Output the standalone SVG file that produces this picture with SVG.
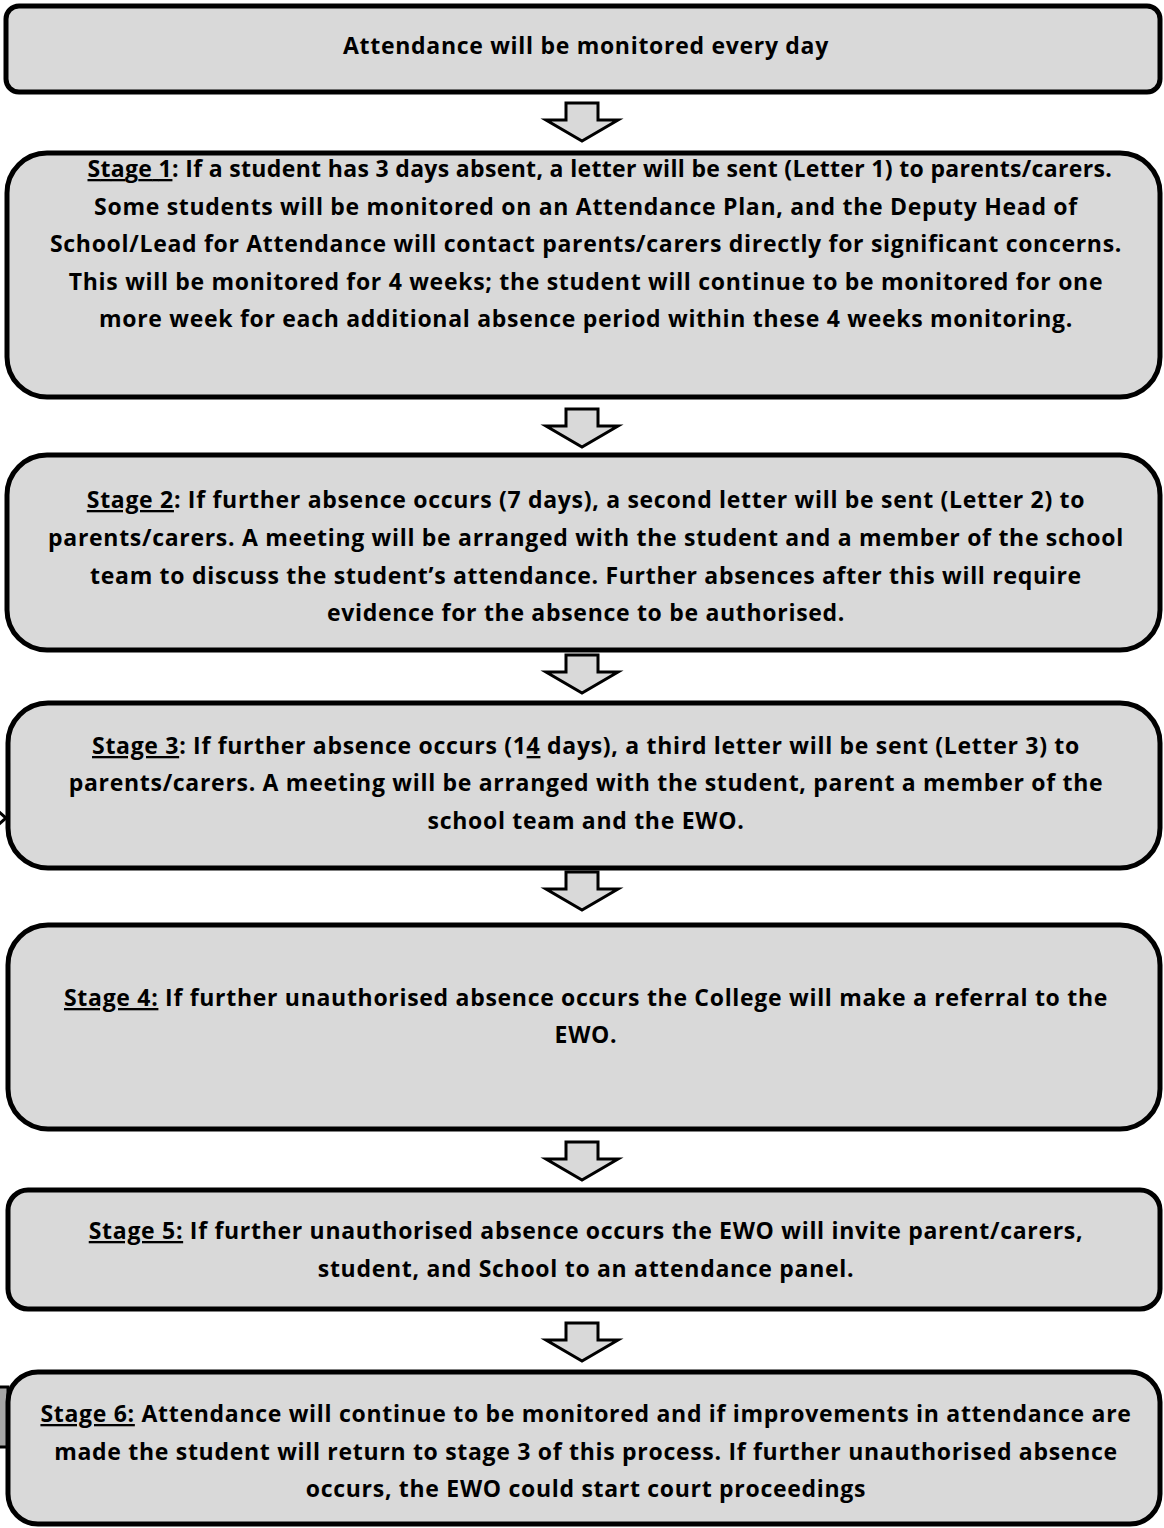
<svg xmlns="http://www.w3.org/2000/svg" width="1164" height="1528" viewBox="0 0 1164 1528">
<defs>
<style>
.box{fill:#d9d9d9;stroke:#000;stroke-width:5}
.arr{fill:#d9d9d9;stroke:#000;stroke-width:3;stroke-linejoin:miter}
text{font-family:"Open Sans","Noto Sans",sans-serif;font-weight:bold;font-size:23px;letter-spacing:0.7px;fill:#000;text-anchor:middle}
.u{text-decoration:underline}
</style>
<path id="dn" d="M-16,0 H16 V17 H36 L0,38 L-36,17 H-16 Z"/>
</defs>
<g id="connectors">
<use href="#dn" class="arr" x="582" y="103"/>
<use href="#dn" class="arr" x="582" y="409"/>
<use href="#dn" class="arr" x="582" y="655"/>
<use href="#dn" class="arr" x="582" y="872"/>
<use href="#dn" class="arr" x="582" y="1142"/>
<use href="#dn" class="arr" x="582" y="1323"/>
<path d="M-2,811 L6,818 L-2,825" fill="none" stroke="#000" stroke-width="3"/>
<rect x="-2" y="1387" width="10" height="60" fill="#a6a6a6" stroke="#000" stroke-width="3"/>
</g>
<g id="n0">
<rect class="box" x="6" y="6" width="1154" height="86" rx="13"/>
<text x="586" y="54">Attendance will be monitored every day</text>
</g>
<g id="n1">
<rect class="box" x="7" y="153" width="1153" height="244" rx="40"/>
<text x="600" y="177" textLength="1025" lengthAdjust="spacing"><tspan class="u">Stage 1</tspan>: If a student has 3 days absent, a letter will be sent (Letter 1) to parents/carers.</text>
<text x="586" y="215">Some students will be monitored on an Attendance Plan, and the Deputy Head of</text>
<text x="586" y="252">School/Lead for Attendance will contact parents/carers directly for significant concerns.</text>
<text x="586" y="290">This will be monitored for 4 weeks; the student will continue to be monitored for one</text>
<text x="586" y="327">more week for each additional absence period within these 4 weeks monitoring.</text>
</g>
<g id="n2">
<rect class="box" x="7" y="455" width="1153" height="195" rx="40"/>
<text x="586" y="508"><tspan class="u">Stage 2</tspan>: If further absence occurs (7 days), a second letter will be sent (Letter 2) to</text>
<text x="586" y="546">parents/carers. A meeting will be arranged with the student and a member of the school</text>
<text x="586" y="584">team to discuss the student’s attendance. Further absences after this will require</text>
<text x="586" y="621">evidence for the absence to be authorised.</text>
</g>
<g id="n3">
<rect class="box" x="8" y="703" width="1152" height="165" rx="40"/>
<text x="586" y="754"><tspan class="u">Stage 3</tspan>: If further absence occurs (1<tspan class="u">4</tspan> days), a third letter will be sent (Letter 3) to</text>
<text x="586" y="791">parents/carers. A meeting will be arranged with the student, parent a member of the</text>
<text x="586" y="829">school team and the EWO.</text>
</g>
<g id="n4">
<rect class="box" x="8" y="925" width="1152" height="204" rx="40"/>
<text x="586" y="1006"><tspan class="u">Stage 4:</tspan> If further unauthorised absence occurs the College will make a referral to the</text>
<text x="586" y="1043">EWO.</text>
</g>
<g id="n5">
<rect class="box" x="8" y="1190" width="1152" height="119" rx="20"/>
<text x="586" y="1239"><tspan class="u">Stage 5:</tspan> If further unauthorised absence occurs the EWO will invite parent/carers,</text>
<text x="586" y="1277">student, and School to an attendance panel.</text>
</g>
<g id="n6">
<rect class="box" x="8" y="1372" width="1152" height="152" rx="30"/>
<text x="586" y="1422"><tspan class="u">Stage 6:</tspan> Attendance will continue to be monitored and if improvements in attendance are</text>
<text x="586" y="1460">made the student will return to stage 3 of this process. If further unauthorised absence</text>
<text x="586" y="1497">occurs, the EWO could start court proceedings</text>
</g>
</svg>
